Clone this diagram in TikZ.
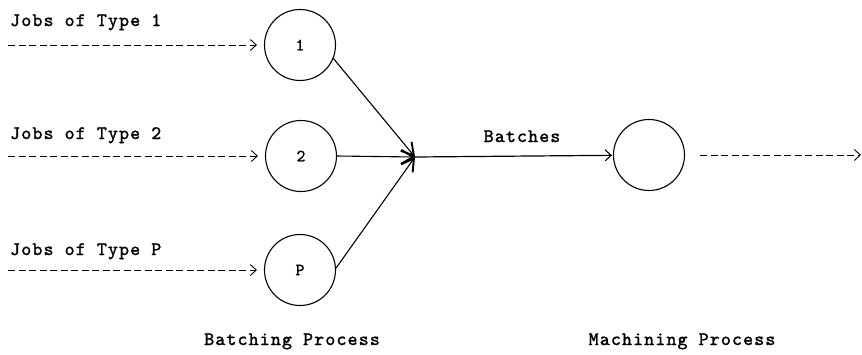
\documentclass[tikz,border=0pt]{standalone}
\usepackage{fontspec}
\newfontfamily\tw{lmmono10-regular}[Extension=.otf,LetterSpace=6,FakeBold=1.5]
\usetikzlibrary{arrows.meta}
\begin{document}
\begin{tikzpicture}[x=1pt,y=-1pt,
  lbl/.style={font=\tw\fontsize{19}{21}\selectfont, inner sep=0pt, anchor=base west},
  captxt/.style={font=\tw\fontsize{19}{21}\selectfont, inner sep=0pt, anchor=base},
  circ/.style={circle, draw, line width=1.1pt, minimum size=71pt, inner sep=0pt, font=\tw\fontsize{17}{19}\selectfont},
  dsh/.style={line width=1pt, dash pattern=on 7pt off 3.5pt, -{Straight Barb[length=6pt,width=11pt,line width=0.9pt]}},
  conv/.style={line width=1.1pt, -{Straight Barb[length=12pt,width=14pt,line width=1.9pt]}},
  sol/.style={line width=1.2pt, -{Straight Barb[length=6pt,width=11pt,line width=1.1pt]}}]
\useasboundingbox (0,0) rectangle (862,354);
% nodes
\node[circ] (c1) at (300,45) {1};
\node[circ] (c2) at (301,156) {2};
\node[circ] (cP) at (300,270) {P};
\node[circ] (cM) at (649,155) {};
\coordinate (m) at (415,157);
\coordinate (s1) at (8,45);
\coordinate (s2) at (8,156);
\coordinate (sP) at (8,270);
\coordinate (o) at (861,155);
% labels
\node[lbl] (t1) at (10,26) {Jobs of Type 1};
\node[lbl] (t2) at (10,139) {Jobs of Type 2};
\node[lbl] (tP) at (10,255) {Jobs of Type P};
\node[captxt] (bt) at (522,142) {Batches};
\node[captxt] (bp) at (292,345) {Batching Process};
\node[captxt] (mp) at (682,345) {Machining Process};
% input arrows
\draw[dsh, shorten >=7pt] (s1) -- (c1);
\draw[dsh, shorten >=7pt] (s2) -- (c2);
\draw[dsh, shorten >=7pt] (sP) -- (cP);
% converging
\draw[conv] (c1.-22) -- (m);
\draw[conv] (c2.east) -- (m);
\draw[conv] (cP.3) -- (m);
\draw[sol, shorten >=1pt] (m) -- (cM);
\draw[dsh, shorten <=15pt] (cM) -- (o);
\end{tikzpicture}
\end{document}
